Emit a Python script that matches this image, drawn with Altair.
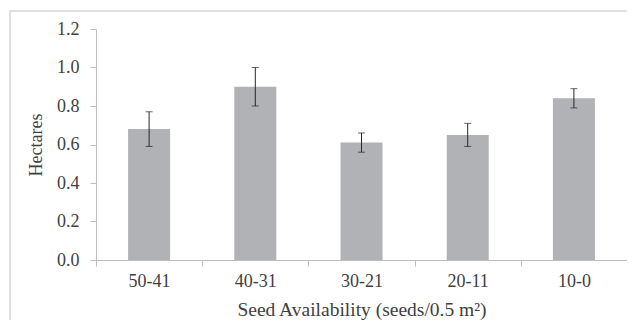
import altair as alt
import pandas as pd

categories = ["50-41", "40-31", "30-21", "20-11", "10-0"]
means = [0.68, 0.90, 0.61, 0.65, 0.84]
err_low = [0.59, 0.80, 0.56, 0.59, 0.79]
err_high = [0.77, 1.00, 0.66, 0.71, 0.89]
y_ticks = [0.0, 0.2, 0.4, 0.6, 0.8, 1.0, 1.2]

df = pd.DataFrame({"cat": categories, "mean": means, "lo": err_low, "hi": err_high})
frame_df = pd.DataFrame({"k": [0]})

FONT = "Liberation Serif"
AXIS_GRAY = "#bfbfbf"
TEXT = "#3f3f3f"

x_axis = alt.Axis(
    title="Seed Availability (seeds/0.5 m²)",
    labelAngle=0,
    tickBand="extent",
    tickSize=6,
    labelPadding=6,
    titlePadding=10,
    titleFontSize=19.5,
)
y_axis = alt.Axis(
    title="Hectares",
    values=y_ticks,
    format=".1f",
    grid=False,
    tickSize=6,
    labelPadding=11,
    titlePadding=11,
    labelOverlap=False,
)
x_scale = alt.Scale(paddingInner=0, paddingOuter=0)
y_scale = alt.Scale(domain=[0, 1.2], nice=False)

bars = alt.Chart(df).mark_bar(color="#b1b2b5", size=42).encode(
    x=alt.X("cat:N", sort=categories, scale=x_scale, axis=x_axis),
    y=alt.Y("mean:Q", scale=y_scale, axis=y_axis),
)

rules = alt.Chart(df).mark_rule(color="#262626", strokeWidth=1).encode(
    x=alt.X("cat:N", sort=categories, scale=x_scale, axis=x_axis),
    y=alt.Y("lo:Q", scale=y_scale, axis=y_axis),
    y2="hi:Q",
)

caps_hi = alt.Chart(df).mark_tick(color="#262626", size=7, thickness=1).encode(
    x=alt.X("cat:N", sort=categories, scale=x_scale, axis=x_axis),
    y=alt.Y("hi:Q", scale=y_scale, axis=y_axis),
)
caps_lo = alt.Chart(df).mark_tick(color="#262626", size=7, thickness=1).encode(
    x=alt.X("cat:N", sort=categories, scale=x_scale, axis=x_axis),
    y=alt.Y("lo:Q", scale=y_scale, axis=y_axis),
)

# outer frame (chart border)
frame = alt.Chart(frame_df).mark_rect(
    filled=False, fill="transparent", stroke="#d6d6d6", strokeWidth=1.5, clip=False
).encode(
    x=alt.value(-86), x2=alt.value(600), y=alt.value(-18), y2=alt.value(340)
)

chart = (
    alt.layer(frame, bars, rules, caps_hi, caps_lo)
    .properties(
        width=531,
        height=231,
        autosize=alt.AutoSizeParams(type="none"),
        padding={"left": 88, "top": 21, "right": 0, "bottom": 60},
    )
    .configure_view(stroke=None)
    .configure_axis(
        labelFont=FONT,
        titleFont=FONT,
        labelFontSize=18,
        titleFontSize=18,
        titleFontWeight="normal",
        labelColor=TEXT,
        titleColor=TEXT,
        domainColor=AXIS_GRAY,
        tickColor=AXIS_GRAY,
        domainWidth=1,
        tickWidth=1,
    )
    .configure_axisY(labelOverlap=False)
)

chart.save("out.html", embed_options={"renderer": "svg", "actions": False})
